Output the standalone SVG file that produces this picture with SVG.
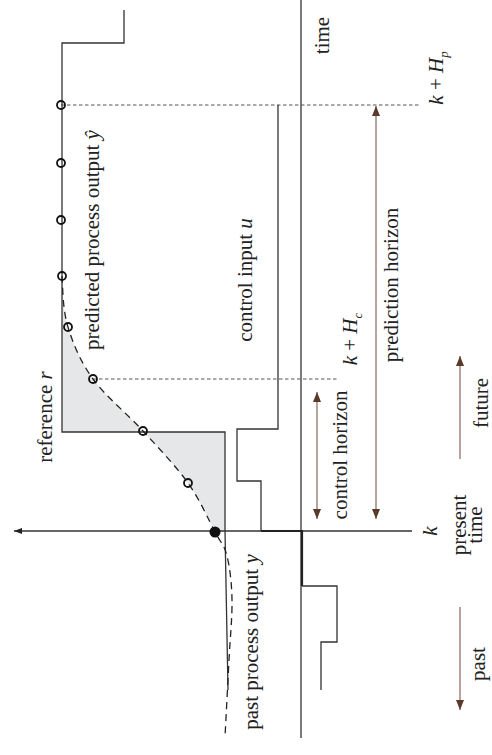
<svg xmlns="http://www.w3.org/2000/svg" width="492" height="755" viewBox="0 0 492 755">
  <defs>
    <marker id="head" viewBox="0 0 10 8" refX="10" refY="4" markerWidth="10" markerHeight="8" markerUnits="userSpaceOnUse" orient="auto-start-reverse">
      <path d="M0,0 L10,4 L0,8 Z" fill="#5b3a29"/>
    </marker>
    <marker id="axisHead" viewBox="0 0 8 6" refX="8" refY="3" markerWidth="8" markerHeight="6" markerUnits="userSpaceOnUse" orient="auto">
      <path d="M0,0 L8,3 L0,6 Z" fill="#222"/>
    </marker>
  </defs>
  <style>
    .ln { fill: none; stroke: #333; stroke-width: 1.3; }
    .thick { fill: none; stroke: #222; stroke-width: 2.2; }
    .guide { fill: none; stroke: #555; stroke-width: 1; stroke-dasharray: 3.5 2.5; }
    .curve { fill: none; stroke: #222; stroke-width: 1.3; stroke-dasharray: 7 5; }
    .hz { fill: none; stroke: #a58d84; stroke-width: 1.6; }
    .pt { fill: none; stroke: #111; stroke-width: 1.8; }
    text { font-family: "Liberation Serif", "Times New Roman", serif; font-size: 21px; fill: #222; }
    .it { font-style: italic; }
  </style>

  <!-- shaded tracking error between reference and prediction -->
  <g id="error-area">
    <path fill="#e6e7e8" d="M62,276 C63,292.2 62.8,309.8 68,327 C73.2,344.2 80.5,361.7 93,379 C105.5,396.3 127.2,413.7 143,431 L143,432 L62,432 Z M143,431 C158.8,448.3 176,466.2 188,483 C200,499.8 208.5,519.8 215,532 L225,532 L225,432 L143,432 Z"/>
  </g>

  <!-- time axis and output axis -->
  <g id="axes">
    <line class="ln" x1="301" y1="0" x2="301" y2="738"/>
    <line class="ln" x1="412" y1="531" x2="14" y2="531" marker-end="url(#axisHead)"/>
  </g>

  <!-- dotted horizon limits -->
  <g id="horizon-limits">
    <line class="guide" x1="61" y1="105" x2="420" y2="105"/>
    <line class="guide" x1="93" y1="379" x2="337" y2="379"/>
  </g>

  <!-- reference trajectory r -->
  <g id="reference">
    <path class="ln" d="M124,10 L124,43 L62,43 L62,432 L225,432 L225,531 L228,690"/>
  </g>

  <!-- control input u -->
  <g id="control-input">
    <path class="ln" d="M278,105 L278,429 L237,429 L237,481 L261,481 L261,531"/>
    <path class="thick" d="M261,531 L302,531 L302,586"/>
    <path class="ln" d="M302,586 L337,586 L337,642 L321,642 L321,690"/>
  </g>

  <!-- measured and predicted output -->
  <g id="output">
    <path class="curve" d="M62,276 C63,292.2 62.8,309.8 68,327 C73.2,344.2 80.5,361.7 93,379 C105.5,396.3 127.2,413.7 143,431 C158.8,448.3 176,466.2 188,483 C200,499.8 208.5,519.8 215,532 C221.5,544.2 224.2,544.7 227,556 C229.8,567.3 231.7,582.7 232,600 C232.3,617.3 230.2,637.2 229,660 C227.8,682.8 225.7,724.2 225,737"/>
    <circle class="pt" cx="61" cy="105" r="4"/>
    <circle class="pt" cx="61" cy="163" r="4"/>
    <circle class="pt" cx="61" cy="220" r="4"/>
    <circle class="pt" cx="62" cy="276" r="4"/>
    <circle class="pt" cx="68" cy="327" r="4"/>
    <circle class="pt" cx="93" cy="379" r="4"/>
    <circle class="pt" cx="143" cy="431" r="4"/>
    <circle class="pt" cx="188" cy="483" r="4"/>
    <circle cx="215" cy="532" r="5.5" fill="#111"/>
  </g>

  <!-- horizon and direction arrows -->
  <g id="connectors">
    <line class="hz" x1="317" y1="392" x2="317" y2="519" marker-start="url(#head)" marker-end="url(#head)"/>
    <line class="hz" x1="376" y1="106" x2="376" y2="519" marker-start="url(#head)" marker-end="url(#head)"/>
    <line class="hz" x1="460" y1="459" x2="460" y2="356" marker-end="url(#head)"/>
    <line class="hz" x1="460" y1="607" x2="460" y2="710" marker-end="url(#head)"/>
  </g>

  <!-- labels -->
  <g id="labels">
    <text transform="translate(329,35.5) rotate(-90)" text-anchor="middle">time</text>
    <text transform="translate(443,78) rotate(-90)" text-anchor="middle"><tspan class="it">k</tspan> + <tspan class="it">H</tspan><tspan class="it" font-size="13" dy="5">p</tspan></text>
    <text transform="translate(357,339) rotate(-90)" text-anchor="middle"><tspan class="it">k</tspan> + <tspan class="it">H</tspan><tspan class="it" font-size="13" dy="5">c</tspan></text>
    <text transform="translate(398,285) rotate(-90)" text-anchor="middle">prediction horizon</text>
    <text transform="translate(252,280) rotate(-90)" text-anchor="middle">control input <tspan class="it">u</tspan></text>
    <text transform="translate(99,240) rotate(-90)" text-anchor="middle">predicted process output <tspan class="it">ŷ</tspan></text>
    <text transform="translate(52,417) rotate(-90)" text-anchor="middle">reference <tspan class="it">r</tspan></text>
    <text transform="translate(347,455) rotate(-90)" text-anchor="middle">control horizon</text>
    <text transform="translate(258,642) rotate(-90)" text-anchor="middle">past process output <tspan class="it">y</tspan></text>
    <text transform="translate(437,531) rotate(-90)" text-anchor="middle" class="it">k</text>
    <text transform="translate(466,525) rotate(-90)" text-anchor="middle">present</text>
    <text transform="translate(482,525) rotate(-90)" text-anchor="middle">time</text>
    <text transform="translate(488,403) rotate(-90)" text-anchor="middle">future</text>
    <text transform="translate(485,664) rotate(-90)" text-anchor="middle">past</text>
  </g>
</svg>
